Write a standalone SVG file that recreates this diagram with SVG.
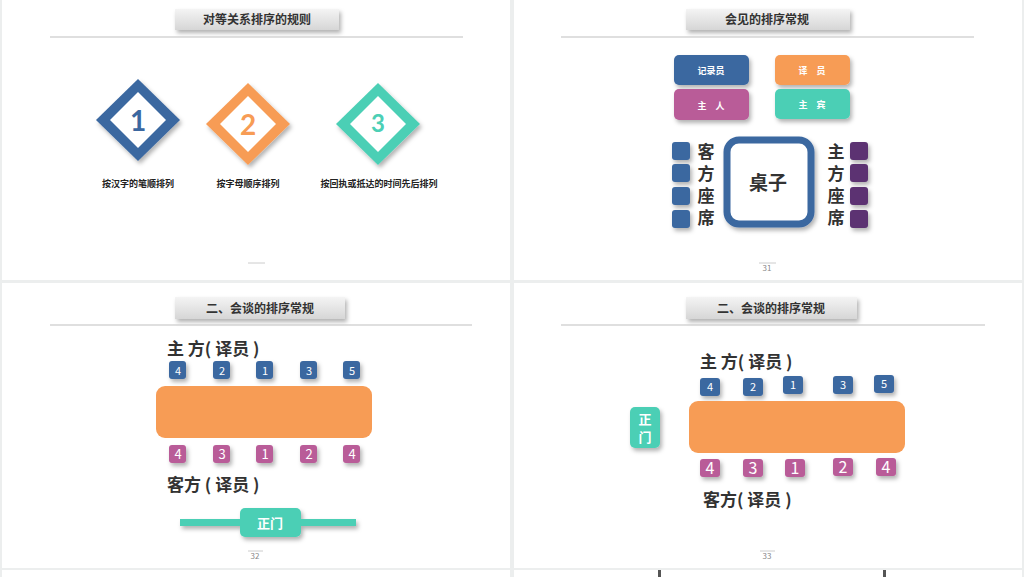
<svg xmlns="http://www.w3.org/2000/svg" width="1024" height="577" viewBox="0 0 1024 577">
<defs>
<linearGradient id="tg" x1="0" y1="0" x2="0" y2="1"><stop offset="0" stop-color="#f4f4f4"/><stop offset="1" stop-color="#d6d6d6"/></linearGradient>
<filter id="sh" x="-30%" y="-30%" width="170%" height="180%"><feDropShadow dx="2" dy="3" stdDeviation="2" flood-color="#000" flood-opacity="0.3"/></filter>
</defs>
<style>
text{font-family:"Noto Sans CJK SC","Noto Sans",sans-serif;font-weight:bold;text-anchor:middle}
.title{font-size:12px;fill:#333}
.rule{stroke:#bfbfbf;stroke-width:1}
.bl{fill:#3b67a0}.pk{fill:#b95c98}.or{fill:#f79c55}.tl{fill:#4ccfb5}.pu{fill:#5b3372}
.n{font-size:11px;fill:#fff;font-weight:normal}
.n12{font-size:13px;fill:#fff;font-weight:normal}
.n16{font-size:16px;fill:#fff;font-weight:normal}
.big{font-size:17px;fill:#333}
.pg{font-size:8px;fill:#888;font-weight:normal}
.vt{font-size:17px;fill:#333}
</style>
<rect width="1024" height="577" fill="#eceeee"/>
<rect x="2" y="0" width="508" height="280" fill="#fff"/>
<rect x="514" y="0" width="508" height="280" fill="#fff"/>
<rect x="2" y="283" width="508" height="285" fill="#fff"/>
<rect x="514" y="283" width="508" height="285" fill="#fff"/>
<rect x="514" y="570" width="508" height="7" fill="#fff"/>
<rect x="2" y="570" width="508" height="7" fill="#fff"/>
<rect x="658" y="570" width="3" height="7" fill="#555"/><rect x="883" y="570" width="3" height="7" fill="#555"/>

<g id="panel1">
<rect x="175" y="9" width="164" height="21" fill="url(#tg)" filter="url(#sh)"/>
<text class="title" x="257" y="24">对等关系排序的规则</text>
<line class="rule" x1="50" y1="37" x2="463" y2="37"/>
<g id="d1"><path d="M138 79 L180 120 L138 161 L96 120 Z" fill="#3b67a0" filter="url(#sh)"/><path d="M138 92 L166 120 L138 148 L110 120 Z" fill="#fff"/><text x="138" y="131" font-size="28" fill="#3b67a0" style="font-family:Lato,sans-serif">1</text></g>
<g id="d2"><path d="M248 83 L290 124 L248 165 L206 124 Z" fill="#f79c55" filter="url(#sh)"/><path d="M248 96 L276 124 L248 152 L220 124 Z" fill="#fff"/><text x="248" y="135" font-size="28" fill="#f79c55" style="font-family:Lato,sans-serif">2</text></g>
<g id="d3"><path d="M378 83 L420 124 L378 165 L336 124 Z" fill="#4ccfb5" filter="url(#sh)"/><path d="M378 96 L406 124 L378 152 L350 124 Z" fill="#fff"/><text x="378" y="132" font-size="24" fill="#4ccfb5" style="font-family:Lato,sans-serif">3</text></g>
<text x="138" y="187" font-size="9" fill="#222">按汉字的笔顺排列</text>
<text x="248" y="187" font-size="9" fill="#222">按字母顺序排列</text>
<text x="379" y="187" font-size="9" fill="#222">按回执或抵达的时间先后排列</text>
<line x1="248" y1="263" x2="265" y2="263" stroke="#ccc"/>
</g>

<g id="panel2">
<rect x="686" y="9" width="164" height="21" fill="url(#tg)" filter="url(#sh)"/>
<text class="title" x="767" y="24">会见的排序常规</text>
<line class="rule" x1="561" y1="37" x2="974" y2="37"/>
<g id="jly"><rect class="bl" x="674" y="55" width="75" height="30" rx="5" filter="url(#sh)"/><text x="711" y="74" font-size="9" fill="#fff">记录员</text></g>
<g id="yy"><rect class="or" x="775" y="55" width="75" height="30" rx="5" filter="url(#sh)"/><text x="812" y="74" font-size="9" fill="#fff">译　员</text></g>
<g id="zr"><rect class="pk" x="674" y="89" width="75" height="31" rx="5" filter="url(#sh)"/><text x="711" y="109" font-size="9" fill="#fff">主　人</text></g>
<g id="zb"><rect class="tl" x="775" y="89" width="75" height="30" rx="5" filter="url(#sh)"/><text x="812" y="108" font-size="9" fill="#fff">主　宾</text></g>
<g id="zz"><rect x="727" y="140" width="84" height="84" rx="12" fill="#fff" stroke="#3b67a0" stroke-width="7" filter="url(#sh)"/><text x="768" y="190" font-size="19" fill="#333">桌子</text></g>
<g id="left-seats" filter="url(#sh)">
<rect class="bl" x="672" y="142" width="18" height="18" rx="3"/><rect class="bl" x="672" y="164" width="18" height="18" rx="3"/><rect class="bl" x="672" y="187" width="18" height="18" rx="3"/><rect class="bl" x="672" y="210" width="18" height="18" rx="3"/>
</g>
<g id="right-seats" filter="url(#sh)">
<rect class="pu" x="850" y="142" width="18" height="18" rx="3"/><rect class="pu" x="850" y="164" width="18" height="18" rx="3"/><rect class="pu" x="850" y="187" width="18" height="18" rx="3"/><rect class="pu" x="850" y="210" width="18" height="18" rx="3"/>
</g>
<text class="vt" x="706" y="158">客</text><text class="vt" x="706" y="180">方</text><text class="vt" x="706" y="202">座</text><text class="vt" x="706" y="224">席</text>
<text class="vt" x="836" y="158">主</text><text class="vt" x="836" y="180">方</text><text class="vt" x="836" y="202">座</text><text class="vt" x="836" y="224">席</text>
<line x1="759" y1="263" x2="776" y2="263" stroke="#ccc"/>
<text class="pg" x="767" y="271">31</text>
</g>

<g id="panel3">
<rect x="175" y="297" width="170" height="22" fill="url(#tg)" filter="url(#sh)"/>
<text class="title" x="260" y="313">二、会谈的排序常规</text>
<line class="rule" x1="50" y1="325" x2="472" y2="325"/>
<text x="167" y="355" class="big" style="text-anchor:start">主 方( 译员 )</text>
<g filter="url(#sh)">
<rect class="bl" x="169" y="361" width="17" height="18" rx="3"/><rect class="bl" x="213" y="361" width="17" height="18" rx="3"/><rect class="bl" x="256" y="361" width="17" height="18" rx="3"/><rect class="bl" x="300" y="361" width="17" height="18" rx="3"/><rect class="bl" x="343" y="361" width="17" height="18" rx="3"/>
</g>
<text class="n" x="178" y="375">4</text><text class="n" x="222" y="375">2</text><text class="n" x="265" y="375">1</text><text class="n" x="309" y="375">3</text><text class="n" x="352" y="375">5</text>
<rect id="t3" class="or" x="156" y="386" width="216" height="52" rx="9"/>
<g filter="url(#sh)">
<rect class="pk" x="169" y="445" width="17" height="18" rx="3"/><rect class="pk" x="213" y="445" width="17" height="18" rx="3"/><rect class="pk" x="256" y="445" width="17" height="18" rx="3"/><rect class="pk" x="300" y="445" width="17" height="18" rx="3"/><rect class="pk" x="343" y="445" width="17" height="18" rx="3"/>
</g>
<text class="n12" x="178" y="459">4</text><text class="n12" x="222" y="459">3</text><text class="n12" x="265" y="459">1</text><text class="n12" x="309" y="459">2</text><text class="n12" x="352" y="459">4</text>
<text x="167" y="491" class="big" style="text-anchor:start">客方 ( 译员 )</text>
<g id="zm3" filter="url(#sh)"><rect class="tl" x="180" y="519" width="176" height="7"/><rect class="tl" x="240" y="508" width="61" height="29" rx="5"/></g>
<text x="270" y="528" font-size="13" fill="#fff">正门</text>
<line x1="248" y1="551" x2="263" y2="551" stroke="#ccc"/>
<text class="pg" x="255" y="559">32</text>
</g>

<g id="panel4">
<rect x="686" y="297" width="171" height="22" fill="url(#tg)" filter="url(#sh)"/>
<text class="title" x="771" y="313">二、会谈的排序常规</text>
<line class="rule" x1="561" y1="325" x2="985" y2="325"/>
<text x="700" y="368" class="big" style="text-anchor:start">主 方( 译员 )</text>
<g filter="url(#sh)">
<rect class="bl" x="700" y="378" width="20" height="18" rx="3"/><rect class="bl" x="743" y="378" width="20" height="18" rx="3"/><rect class="bl" x="783" y="376" width="20" height="18" rx="3"/><rect class="bl" x="833" y="376" width="20" height="18" rx="3"/><rect class="bl" x="874" y="375" width="20" height="18" rx="3"/>
</g>
<text class="n" x="710" y="391">4</text><text class="n" x="753" y="391">2</text><text class="n" x="793" y="389">1</text><text class="n" x="843" y="389">3</text><text class="n" x="884" y="388">5</text>
<rect id="t4" class="or" x="689" y="401" width="216" height="52" rx="9"/>
<g filter="url(#sh)">
<rect class="pk" x="700" y="459" width="20" height="18" rx="3"/><rect class="pk" x="743" y="459" width="20" height="18" rx="3"/><rect class="pk" x="785" y="459" width="20" height="18" rx="3"/><rect class="pk" x="833" y="458" width="20" height="18" rx="3"/><rect class="pk" x="876" y="458" width="20" height="18" rx="3"/>
</g>
<text class="n16" x="710" y="474">4</text><text class="n16" x="753" y="474">3</text><text class="n16" x="795" y="474">1</text><text class="n16" x="843" y="473">2</text><text class="n16" x="886" y="473">4</text>
<text x="703" y="506" class="big" style="text-anchor:start">客方( 译员 )</text>
<g id="zm4"><rect class="tl" x="630" y="407" width="30" height="41" rx="5" filter="url(#sh)"/><text x="645" y="424" font-size="13" fill="#fff">正</text><text x="645" y="442" font-size="13" fill="#fff">门</text></g>
<line x1="760" y1="551" x2="775" y2="551" stroke="#ccc"/>
<text class="pg" x="767" y="559">33</text>
</g>
</svg>
